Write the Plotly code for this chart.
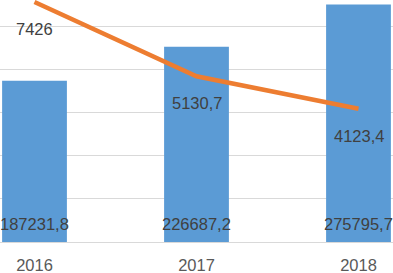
import plotly.graph_objects as go

years = ["2016", "2017", "2018"]
bar_values = [187231.8, 226687.2, 275795.7]
line_values = [7426, 5130.7, 4123.4]


def fmt(v):
    return str(v).replace(".", ",")


FONT = "Liberation Sans, Arial, sans-serif"
LABEL_COLOR = "#404040"

fig = go.Figure()
fig.add_trace(go.Bar(
    x=years, y=bar_values, marker=dict(color="#5B9BD5", line=dict(width=0)),
    hoverinfo="skip", showlegend=False,
))
fig.add_trace(go.Scatter(
    x=years, y=line_values, mode="lines", yaxis="y2",
    line=dict(color="#ED7D31", width=4.5), hoverinfo="skip", showlegend=False,
))

annotations = []
for i, v in enumerate(bar_values):
    annotations.append(dict(
        x=i, y=0, xref="x", yref="y", text=fmt(v), showarrow=False,
        yanchor="middle", xanchor="center", yshift=18,
        font=dict(family=FONT, size=16.5, color=LABEL_COLOR),
    ))
for i, v in enumerate(line_values):
    annotations.append(dict(
        x=i, y=v, xref="x", yref="y2", text=fmt(v), showarrow=False,
        yanchor="middle", xanchor="center", yshift=-27,
        font=dict(family=FONT, size=16.5, color=LABEL_COLOR),
    ))

fig.update_layout(
    width=393, height=273,
    margin=dict(l=0, r=0, t=0, b=31, pad=0, autoexpand=False),
    paper_bgcolor="white", plot_bgcolor="white",
    bargap=0.6,
    font=dict(family=FONT, size=16.5, color="#595959"),
    xaxis=dict(
        type="category", range=[-0.213, 2.213], automargin=False,
        showgrid=False, showline=True, linecolor="#D9D9D9", linewidth=1,
        ticks="", tickfont=dict(family=FONT, size=16.5, color="#595959"),
        ticklabelstandoff=8, fixedrange=True,
    ),
    yaxis=dict(
        range=[0, 281000], dtick=50000, showgrid=True, gridcolor="#D9D9D9",
        gridwidth=1, zeroline=False, showticklabels=False, fixedrange=True,
    ),
    yaxis2=dict(
        range=[0, 7490], overlaying="y", side="right", showgrid=False,
        zeroline=False, showticklabels=False, fixedrange=True,
    ),
    annotations=annotations,
)

fig.write_html(
    "out.html",
    config={"displayModeBar": False, "staticPlot": True},
    post_script="document.body.style.margin='0';document.body.style.padding='0';",
)
